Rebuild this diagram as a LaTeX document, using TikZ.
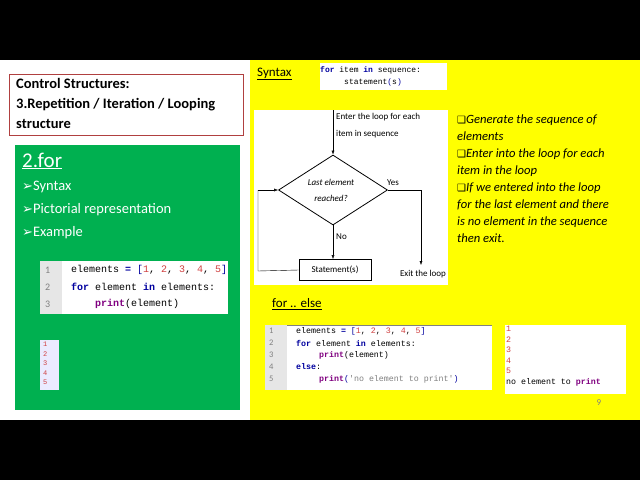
\documentclass[tikz,border=0pt]{standalone}
\usepackage{fontspec}
\setmainfont{Carlito}
\setmonofont{Liberation Mono}
\newfontfamily\dejav{DejaVu Sans}
\usetikzlibrary{shapes.geometric,arrows.meta}
\definecolor{grn}{HTML}{00B050}
\definecolor{yel}{HTML}{FFFF00}
\definecolor{kw}{HTML}{00009F}
\definecolor{num}{HTML}{D04040}
\definecolor{pr}{HTML}{800080}
\definecolor{gut}{HTML}{E6E6E6}
\definecolor{brd}{HTML}{B04040}
\tikzset{
  x=1pt,y=-1pt,
  code/.style={anchor=west,inner sep=0,font=\ttfamily\fontsize{10}{10}\selectfont},
  lno/.style={anchor=west,inner sep=0,text=gray,font=\fontsize{10}{10}\selectfont},
  fc/.style={font=\fontsize{9}{9}\selectfont,inner sep=0},
  bul/.style={anchor=west,inner sep=0,text=white,font=\fontsize{14.5}{14}\selectfont},
  arr/.style={-{Latex[length=4pt,width=3pt]},thin}
}
\begin{document}
\begin{tikzpicture}
\useasboundingbox (0,0) rectangle (640,480);
\fill[black] (0,0) rectangle (640,60);
\fill[black] (0,420) rectangle (640,480);
\fill[white] (0,60) rectangle (250,420);
\fill[yel] (250,60) rectangle (640,420);
% title
\draw[brd,line width=1pt,fill=white] (9,74) rectangle (243,135);
\node[anchor=north west,align=left,inner sep=0,font=\bfseries\fontsize{14.5}{20}\selectfont] (title) at (16,78) {Control Structures:\\3.Repetition / Iteration / Looping\\structure};
% green
\fill[grn] (15,145) rectangle (240,410);
\node[bul,font=\fontsize{21}{20}\selectfont] (for) at (22,161) {\underline{2.for}};
\node[bul] (b1) at (22,187) {{\dejav\fontsize{13}{13}\selectfont ➢}Syntax};
\node[bul] (b2) at (22,210) {{\dejav\fontsize{13}{13}\selectfont ➢}Pictorial representation};
\node[bul] (b3) at (22,233) {{\dejav\fontsize{13}{13}\selectfont ➢}Example};
\fill[white] (40,261) rectangle (228,314);
\fill[gut] (40,261) rectangle (62,314);
\node[lno] (l1) at (45,270) {1};
\node[lno] (l2) at (45,287) {2};
\node[lno] (l3) at (45,304) {3};
\node[code] (c1) at (71,270) {elements \textcolor{kw}{\bfseries =} \textcolor{kw}{[}\textcolor{num}{1}, \textcolor{num}{2}, \textcolor{num}{3}, \textcolor{num}{4}, \textcolor{num}{5}\textcolor{kw}{]}};
\node[code] (c2) at (71,287) {\textcolor{kw}{\bfseries for} element \textcolor{kw}{\bfseries in} elements:};
\node[code] (c3) at (95,304) {\textcolor{pr}{\bfseries print}(element)};
\fill[blue!8] (40,340) rectangle (59,390);
\node[anchor=north west,align=left,inner sep=0,text=num,font=\ttfamily\fontsize{7}{9.5}\selectfont] (o1) at (43,342) {1\\2\\3\\4\\5};
% syntax
\node[anchor=west,inner sep=0,font=\fontsize{13}{13}\selectfont] (syn) at (257,74) {\underline{Syntax}};
\fill[white] (320,63) rectangle (447,90);
\node[code,font=\ttfamily\fontsize{8}{8}\selectfont] (s1) at (320,70) {\textcolor{kw}{\bfseries for} item \textcolor{kw}{\bfseries in} sequence:};
\node[code,font=\ttfamily\fontsize{8}{8}\selectfont] (s2) at (344,82) {statement\textcolor{kw}{(}s\textcolor{kw}{)}};
% flowchart
\fill[white] (254,110) rectangle (448,285);
\coordinate (top) at (333,110);
\node[draw,diamond,thick,minimum width=109pt,minimum height=70pt,inner sep=0,aspect=1.55] (dia) at (333,190) {};
\node[fc,align=center,font=\fontsize{9}{16}\selectfont\itshape] (dt) at (331,190) {Last element\\reached?};
\node[fc,anchor=north west,align=left,font=\fontsize{9}{17}\selectfont] (ent) at (336,113) {Enter the loop for each\\item in sequence};
\node[draw,thick,minimum width=72pt,minimum height=21pt,inner sep=0,fc] (st) at (335,270) {Statement(s)};
\coordinate (exit) at (421,265);
\coordinate (yc) at (421,190);
\coordinate (lb) at (258,271);
\coordinate (lt) at (258,190);
\draw[arr] (top) -- (dia.north);
\draw[arr] (dia.south) -- (st.north -| dia.south);
\draw (dia.east) -- (yc);
\draw[arr] (yc) -- (exit);
\draw (st.west) -- (lb) -- (lt);
\draw[arr] (lt) -- (dia.west);
\node[fc,anchor=south west] (yes) at (387,186) {Yes};
\node[fc,anchor=west] (no) at (336,237) {No};
\node[fc] (ex) at (423,274) {Exit the loop};
% right text
\node[anchor=north west,align=left,inner sep=0,font=\itshape\fontsize{12.6}{17}\selectfont] (rt) at (457,115) {%
{\dejav\upshape\fontsize{10}{10}\selectfont ❑}Generate the sequence of\\elements\\%
{\dejav\upshape\fontsize{10}{10}\selectfont ❑}Enter into the loop for each\\item in the loop\\%
{\dejav\upshape\fontsize{10}{10}\selectfont ❑}If we entered into the loop\\for the last element and there\\is no element in the sequence\\then exit.};
% for else
\node[anchor=west,inner sep=0,font=\fontsize{13}{13}\selectfont] (fe) at (272,304) {\underline{for .. else}};
\fill[white] (265,325) rectangle (492,390);
\draw[gray] (265,325) -- (492,325);
\fill[gut] (265,325) rectangle (287,390);
\tikzset{code/.append style={font=\ttfamily\fontsize{8.3}{8}\selectfont},lno/.append style={font=\fontsize{8.5}{8}\selectfont}}
\foreach \i/\yy in {1/331,2/343,3/355,4/367,5/379} {\node[lno] (n\i) at (269,\yy) {\i};}
\node[code] (e1) at (296,331) {elements \textcolor{kw}{\bfseries =} \textcolor{kw}{[}\textcolor{num}{1}, \textcolor{num}{2}, \textcolor{num}{3}, \textcolor{num}{4}, \textcolor{num}{5}\textcolor{kw}{]}};
\node[code] (e2) at (296,343) {\textcolor{kw}{\bfseries for} element \textcolor{kw}{\bfseries in} elements:};
\node[code] (e3) at (319,355) {\textcolor{pr}{\bfseries print}(element)};
\node[code] (e4) at (296,367) {\textcolor{kw}{\bfseries else}:};
\node[code] (e5) at (319,379) {\textcolor{pr}{\bfseries print}\textcolor{kw}{(}\textcolor{gray}{'no element to print'}\textcolor{kw}{)}};
\fill[white] (505,325) rectangle (626,394);
\node[anchor=north west,align=left,inner sep=0,font=\ttfamily\fontsize{8.3}{10.5}\selectfont] (out) at (506,326) {\textcolor{num}{1}\\\textcolor{num}{2}\\\textcolor{num}{3}\\\textcolor{num}{4}\\\textcolor{num}{5}\\no element to \textcolor{pr}{\bfseries print}};
\node[text=gray,font=\fontsize{9}{9}\selectfont,inner sep=0] (pg) at (599,403) {9};
\end{tikzpicture}
\end{document}
